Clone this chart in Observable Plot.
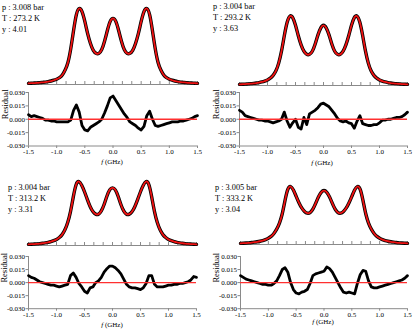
<!DOCTYPE html>
<html>
<head>
<meta charset="utf-8">
<script src="https://cdn.jsdelivr.net/npm/d3@7"></script>
<script src="https://cdn.jsdelivr.net/npm/@observablehq/plot@0.6"></script>
<style>
  body { margin: 0; background: #fff; }
  #chart { position: relative; width: 415px; height: 332px; overflow: hidden; font-family: "Liberation Serif", "Times New Roman", serif; }
  .ann { position: absolute; font-size: 8.3px; line-height: 11px; color: #000; white-space: nowrap; }
  .xlab { position: absolute; font-size: 7px; color: #000; white-space: nowrap; transform: translate(-50%, -50%); }
</style>
</head>
<body>
<div id="chart"></div>
<script>
// ---- data ----
const freq = [-1.5,-1.45,-1.4,-1.35,-1.3,-1.25,-1.2,-1.15,-1.1,-1.05,
  -1.0,-0.95,-0.9,-0.85,-0.8,-0.75,-0.7,-0.65,-0.6,-0.55,
  -0.5,-0.45,-0.4,-0.35,-0.3,-0.25,-0.2,-0.15,-0.1,-0.05,
  0,
  0.05,0.1,0.15,0.2,0.25,0.3,0.35,0.4,0.45,0.5,
  0.55,0.6,0.65,0.7,0.75,0.8,0.85,0.9,0.95,1.0,
  1.05,1.1,1.15,1.2,1.25,1.3,1.35,1.4,1.45,1.5];

const pressures = ["3.008", "3.004", "3.004", "3.005"];
const temperatures = ["273.2", "293.2", "313.2", "333.2"];
const yParams = ["4.01", "3.63", "3.31", "3.04"];

const spec1 = [0.015,0.017,0.019,0.021,0.024,0.028,0.032,0.038,0.046,0.056,
  0.070,0.090,0.125,0.19,0.29,0.47,0.71,0.92,1.00,0.96,
  0.83,0.67,0.54,0.45,0.41,0.41,0.46,0.57,0.71,0.83,
  0.87,
  0.83,0.71,0.57,0.46,0.41,0.41,0.45,0.54,0.67,0.83,
  0.96,1.00,0.92,0.71,0.47,0.29,0.19,0.125,0.090,0.070,
  0.056,0.046,0.038,0.032,0.028,0.024,0.021,0.019,0.017,0.015];
const spec2 = [0.016,0.018,0.020,0.023,0.026,0.030,0.035,0.042,0.051,0.063,
  0.080,0.105,0.145,0.21,0.32,0.49,0.71,0.90,0.99,0.97,
  0.86,0.71,0.58,0.49,0.445,0.445,0.49,0.59,0.72,0.82,
  0.86,
  0.82,0.72,0.59,0.49,0.445,0.445,0.49,0.58,0.71,0.86,
  0.97,0.99,0.90,0.71,0.49,0.32,0.21,0.145,0.105,0.080,
  0.063,0.051,0.042,0.035,0.030,0.026,0.023,0.020,0.018,0.016];
const spec3 = [0.018,0.020,0.023,0.026,0.030,0.035,0.041,0.049,0.060,0.075,
  0.095,0.125,0.17,0.245,0.36,0.53,0.76,0.95,1.00,0.94,
  0.84,0.72,0.61,0.53,0.49,0.49,0.54,0.64,0.77,0.87,
  0.90,
  0.87,0.77,0.64,0.54,0.49,0.49,0.53,0.61,0.72,0.84,
  0.94,1.00,0.95,0.76,0.53,0.36,0.245,0.17,0.125,0.095,
  0.075,0.060,0.049,0.041,0.035,0.030,0.026,0.023,0.020,0.018];
const spec4 = [0.020,0.022,0.025,0.029,0.034,0.040,0.047,0.056,0.068,0.085,
  0.108,0.14,0.19,0.265,0.37,0.53,0.76,0.95,1.00,0.94,
  0.83,0.72,0.63,0.57,0.54,0.55,0.61,0.71,0.82,0.90,
  0.93,
  0.90,0.82,0.71,0.61,0.55,0.54,0.57,0.63,0.72,0.83,
  0.94,1.00,0.95,0.76,0.53,0.37,0.265,0.19,0.14,0.108,
  0.085,0.068,0.056,0.047,0.040,0.034,0.029,0.025,0.022,0.020];

const res1 = [0.005,0.003,0.004,0.003,0.002,0.001,-0.001,-0.001,-0.002,-0.002,
  -0.003,-0.003,-0.003,-0.003,-0.003,-0.001,0.010,0.016,0.008,-0.007,
  -0.012,-0.013,-0.009,-0.007,-0.005,-0.003,0.000,0.007,0.015,0.024,
  0.026,
  0.021,0.016,0.011,0.006,0.002,-0.003,-0.005,-0.007,-0.010,-0.012,
  -0.008,0.004,0.009,0.000,-0.007,-0.008,-0.007,-0.006,-0.005,-0.004,
  -0.003,-0.003,-0.003,-0.002,-0.002,-0.001,0.000,0.001,0.003,0.004];
const res2 = [0.010,0.008,0.004,0.003,0.002,0.001,0.000,-0.001,-0.001,-0.002,
  -0.002,-0.003,-0.004,-0.003,-0.002,0.000,0.008,-0.002,-0.009,-0.004,
  0.000,-0.009,-0.011,0.002,-0.006,0.006,0.008,0.010,0.013,0.017,
  0.018,
  0.016,0.014,0.010,0.006,0.001,-0.002,-0.003,-0.002,-0.004,-0.005,
  -0.010,-0.002,0.004,-0.005,-0.006,-0.007,-0.007,-0.006,-0.006,-0.004,
  -0.001,-0.001,0.000,0.000,0.001,0.002,0.002,0.003,0.005,0.008];
const res3 = [0.008,0.006,0.005,0.003,0.001,0.000,-0.001,-0.002,-0.003,-0.003,
  -0.004,-0.005,-0.004,-0.003,-0.002,0.008,0.011,0.006,-0.001,-0.005,
  -0.010,-0.012,-0.006,-0.005,0.000,0.002,0.006,0.012,0.016,0.019,
  0.019,
  0.017,0.014,0.010,0.004,-0.002,-0.005,-0.006,-0.006,-0.007,-0.008,
  -0.006,-0.001,0.008,0.008,-0.002,-0.005,-0.005,-0.005,-0.004,-0.003,
  -0.003,-0.002,-0.002,-0.001,-0.001,0.000,0.001,0.003,0.007,0.006];
const res4 = [0.008,0.006,0.004,0.003,0.002,0.001,0.000,-0.001,-0.002,-0.002,
  -0.003,-0.003,-0.001,0.002,0.008,0.015,0.017,0.012,0.000,-0.008,
  -0.012,-0.013,-0.011,-0.010,-0.008,-0.001,0.008,0.010,0.011,0.012,
  0.013,
  0.018,0.016,0.012,0.006,0.000,-0.006,-0.011,-0.012,-0.011,-0.012,
  -0.013,-0.001,0.009,0.014,0.013,0.002,-0.005,-0.006,-0.006,-0.005,
  -0.004,-0.003,-0.002,-0.001,0.000,0.001,0.002,0.003,0.005,0.008];

const xTicks = [-1.5, -1.0, -0.5, 0.0, 0.5, 1.0, 1.5];
const resTicks = [-0.030, -0.015, 0.000, 0.015, 0.030];
const topTicks = d3.range(-9, 10).map(i => i / 6);

// ---- layout ----
const panels = [
  {left: 0,   w: 205, ml: 28, mr: 8, t1: 8,   t0: 84,  rT: 92,    rB: 145.5, labX: 1.7,   txL: 2,   txT: 1.5,   xlX: 112, xlY: 162},
  {left: 205, w: 210, ml: 34, mr: 8, t1: 15,  t0: 85,  rT: 92,    rB: 145.5, labX: 212.5, txL: 213, txT: 0.5,   xlX: 322, xlY: 163},
  {left: 0,   w: 205, ml: 28, mr: 9, t1: 181, t0: 245, rT: 255.5, rB: 307.7, labX: 0.5,   txL: 8,   txT: 181.5, xlX: 112, xlY: 325},
  {left: 205, w: 210, ml: 35, mr: 8, t1: 186, t0: 244, rT: 255.5, rB: 307.7, labX: 212.5, txL: 215, txT: 181.5, xlX: 323, xlY: 322}
];
const specs = [spec1, spec2, spec3, spec4];
const resids = [res1, res2, res3, res4];

const gray = "#8a8a8a";
const font = '"Liberation Serif", "Times New Roman", serif';
const chart = document.getElementById("chart");

function place(el, left, top) {
  el.style.position = "absolute";
  el.style.left = left + "px";
  el.style.top = top + "px";
  chart.appendChild(el);
}

panels.forEach((p, i) => {
  const specRows = freq.map((f, k) => ({f, v: specs[i][k]}));
  const resRows = freq.map((f, k) => ({f, r: resids[i][k]}));
  const tickLen = 3 / (p.t0 - p.t1);

  const top = Plot.plot({
    width: p.w,
    height: p.t0 - p.t1 + 12,
    marginLeft: p.ml, marginRight: p.mr, marginTop: 6, marginBottom: 6,
    style: {background: "transparent", overflow: "visible", fontFamily: font},
    x: {domain: [-1.5, 1.5], axis: null},
    y: {domain: [0, 1], axis: null},
    marks: [
      Plot.ruleX(topTicks, {y1: 0, y2: tickLen, stroke: gray, strokeWidth: 1}),
      Plot.ruleY([0], {stroke: gray, strokeWidth: 1}),
      Plot.line(specRows, {x: "f", y: "v", stroke: "black", strokeWidth: 3.4, curve: "natural"}),
      Plot.line(specRows, {x: "f", y: "v", stroke: "#ee1111", strokeWidth: 1.8, curve: "natural"})
    ]
  });
  place(top, p.left, p.t1 - 6);

  const res = Plot.plot({
    width: p.w,
    height: p.rB - p.rT + 26,
    marginLeft: p.ml, marginRight: p.mr, marginTop: 6, marginBottom: 20,
    style: {background: "transparent", overflow: "visible", fontFamily: font, fontSize: "7px"},
    x: {domain: [-1.5, 1.5]},
    y: {domain: [-0.03, 0.03]},
    marks: [
      Plot.axisY({ticks: resTicks, tickFormat: d => d.toFixed(3), tickSize: 2.5, tickPadding: 1, stroke: gray, label: null, fontSize: 7, fontFamily: font}),
      Plot.axisX({ticks: xTicks, tickFormat: d => d.toFixed(1), tickSize: 2.5, tickPadding: 1, stroke: gray, label: null, fontSize: 7, fontFamily: font}),
      Plot.ruleX([-1.5], {stroke: gray}),
      Plot.ruleY([-0.03], {stroke: gray}),
      Plot.text(["Residual"], {frameAnchor: "left", rotate: -90, dx: (p.labX - p.left) - p.ml, lineAnchor: "top", fontSize: 8.5, fontFamily: font, fill: "black"}),
      Plot.line(resRows, {x: "f", y: "r", stroke: "black", strokeWidth: 2.8}),
      Plot.ruleY([0], {stroke: "#ff3030", strokeWidth: 1.4})
    ]
  });
  place(res, p.left, p.rT - 6);

  const ann = document.createElement("div");
  ann.className = "ann";
  ann.innerHTML = `p : ${pressures[i]} bar<br>T : ${temperatures[i]} K<br>y : ${yParams[i]}`;
  place(ann, p.txL, p.txT);

  const xl = document.createElement("div");
  xl.className = "xlab";
  xl.innerHTML = `<i>f</i> (GHz)`;
  place(xl, p.xlX, p.xlY);
});
</script>
</body>
</html>
